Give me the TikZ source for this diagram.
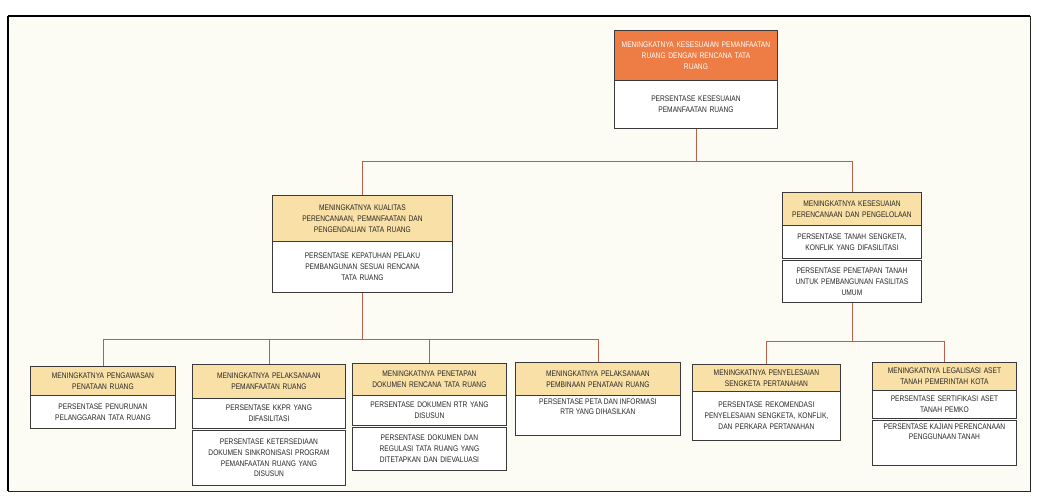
\documentclass[tikz,border=0pt]{standalone}
\usepackage{fontspec}
\usetikzlibrary{calc}
\newfontfamily\boxfont[FakeStretch=0.82]{Liberation Sans}
\definecolor{bgcream}{HTML}{FCFBF4}
\definecolor{orangebox}{HTML}{EE7D45}
\definecolor{yellowbox}{HTML}{F9E0A6}
\definecolor{connred}{HTML}{B8604A}
\definecolor{boxline}{HTML}{3A3A3A}
\definecolor{txt}{HTML}{262626}
\tikzset{
  basebox/.style={draw=boxline, line width=0.9pt, anchor=north west, inner sep=0pt,
    align=center, font=\boxfont\fontsize{8.1}{10.8}\selectfont, text=txt},
  obox/.style={basebox, fill=orangebox, text=white},
  ybox/.style={basebox, fill=yellowbox},
  wbox/.style={basebox, fill=white},
  conn/.style={draw=connred, line width=0.7pt},
}
\newcommand\bx[7]{%
  \pgfmathsetmacro\tw{#5-6}%
  \node[#2, minimum width=#5pt, minimum height=#6pt, text width=\tw pt] (#1) at (#3,#4) {#7};}
\newcommand\bxtop[7]{%
  \pgfmathsetmacro\tw{#5-6}\pgfmathsetmacro\th{#6-4}%
  \node[#2, minimum width=#5pt, minimum height=#6pt] (#1) at (#3,#4) {\parbox[c][\th pt][t]{\tw pt}{\centering\vspace{1pt}#7}};}
\begin{document}
\begin{tikzpicture}[x=1pt,y=-1pt]
\useasboundingbox (0,0) rectangle (1037,497);
\fill[white] (0,0) rectangle (1037,497);
\fill[bgcream] (8,16) rectangle (1030,491);
\draw[black!85, line width=0.8pt] (8,16) rectangle (1030,491);
\draw[black, line width=1.6pt] (8,16) -- (1030,16);
\draw[black, line width=1.2pt] (8,16) -- (8,491);
% top
\bx{t1}{obox}{614}{30}{163}{50}{MENINGKATNYA KESESUAIAN PEMANFAATAN\\RUANG DENGAN RENCANA TATA\\RUANG}
\bx{t2}{wbox}{614}{80}{163}{48}{PERSENTASE KESESUAIAN\\PEMANFAATAN RUANG}
% middle
\bx{m1a}{ybox}{272}{195}{180}{46}{MENINGKATNYA KUALITAS\\PERENCANAAN, PEMANFAATAN DAN\\PENGENDALIAN TATA RUANG}
\bx{m1b}{wbox}{272}{241}{180}{51}{PERSENTASE KEPATUHAN PELAKU\\PEMBANGUNAN SESUAI RENCANA\\TATA RUANG}
\bx{m2a}{ybox}{782}{192}{139}{33}{MENINGKATNYA KESESUAIAN\\PERENCANAAN DAN PENGELOLAAN}
\bx{m2b}{wbox}{782}{225}{139}{33}{PERSENTASE TANAH SENGKETA,\\KONFLIK YANG DIFASILITASI}
\bx{m2c}{wbox}{782}{260}{139}{42}{PERSENTASE PENETAPAN TANAH\\UNTUK PEMBANGUNAN FASILITAS\\UMUM}
% bottom
\bx{b1a}{ybox}{30}{366}{145}{29}{MENINGKATNYA PENGAWASAN\\PENATAAN RUANG}
\bx{b1b}{wbox}{30}{395}{145}{33}{PERSENTASE PENURUNAN\\PELANGGARAN TATA RUANG}
\bx{b2a}{ybox}{192}{364}{153}{34}{MENINGKATNYA PELAKSANAAN\\PEMANFAATAN RUANG}
\bx{b2b}{wbox}{192}{398}{153}{30}{PERSENTASE KKPR YANG\\DIFASILITASI}
\bx{b2c}{wbox}{192}{430}{153}{55}{PERSENTASE KETERSEDIAAN\\DOKUMEN SINKRONISASI PROGRAM\\PEMANFAATAN RUANG YANG\\DISUSUN}
\bx{b3a}{ybox}{352}{363}{154}{32}{MENINGKATNYA PENETAPAN\\DOKUMEN RENCANA TATA RUANG}
\bx{b3b}{wbox}{352}{395}{154}{30}{PERSENTASE DOKUMEN RTR YANG\\DISUSUN}
\bx{b3c}{wbox}{352}{427}{154}{43}{PERSENTASE DOKUMEN DAN\\REGULASI TATA RUANG YANG\\DITETAPKAN DAN DIEVALUASI}
\bx{b4a}{ybox}{515}{362}{165}{33}{MENINGKATNYA PELAKSANAAN\\PEMBINAAN PENATAAN RUANG}
\bxtop{b4b}{wbox}{515}{395}{165}{40}{PERSENTASE PETA DAN INFORMASI\\RTR YANG DIHASILKAN}
\bx{b5a}{ybox}{692}{364}{148}{27}{MENINGKATNYA PENYELESAIAN\\SENGKETA PERTANAHAN}
\bx{b5b}{wbox}{692}{391}{148}{49}{PERSENTASE REKOMENDASI\\PENYELESAIAN SENGKETA, KONFLIK,\\DAN PERKARA PERTANAHAN}
\bx{b6a}{ybox}{872}{362}{144}{28}{MENINGKATNYA LEGALISASI ASET\\TANAH PEMERINTAH KOTA}
\bx{b6b}{wbox}{872}{390}{144}{28}{PERSENTASE SERTIFIKASI ASET\\TANAH PEMKO}
\bxtop{b6c}{wbox}{872}{420}{144}{45}{PERSENTASE KAJIAN PERENCANAAN\\PENGGUNAAN TANAH}
% connectors
\coordinate (j1) at ($(t2.south)+(0,32)$);
\coordinate (j2) at ($(m1b.south)+(0,46)$);
\coordinate (j3) at ($(m2c.south)+(0,38)$);
\draw[conn] (t2.south) -- (j1);
\draw[conn] (m1a.north) |- (j1) -| (m2a.north);
\draw[conn] (m1b.south) -- (j2);
\draw[conn] (b1a.north) |- (j2) -| (b4a.north);
\draw[conn] (b2a.north) -- (b2a.north |- j2);
\draw[conn] (b3a.north) -- (b3a.north |- j2);
\draw[conn] (m2c.south) -- (j3);
\draw[conn] (b5a.north) |- (j3) -| (b6a.north);
\end{tikzpicture}
\end{document}
